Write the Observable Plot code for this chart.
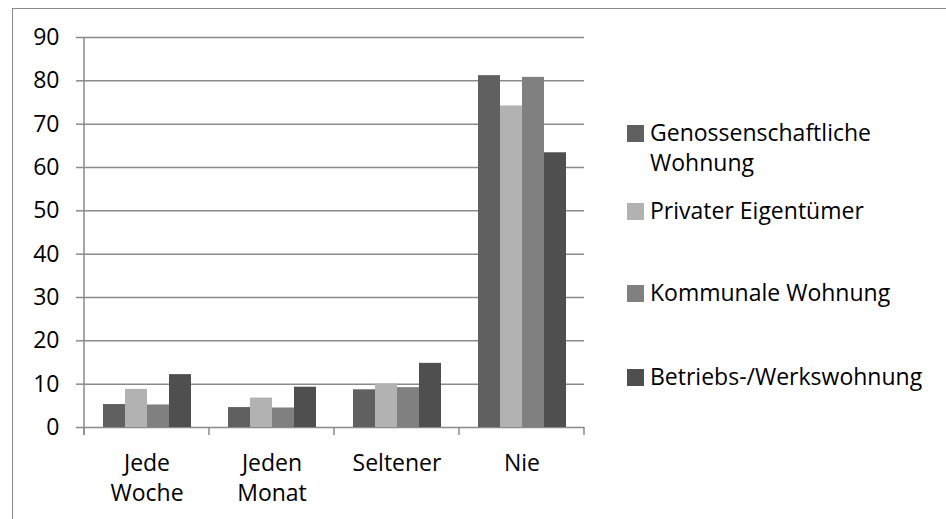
<!DOCTYPE html>
<html>
<head>
<meta charset="utf-8">
<script src="https://cdn.jsdelivr.net/npm/d3@7"></script>
<script src="https://cdn.jsdelivr.net/npm/@observablehq/plot@0.6"></script>
<style>
  html, body { margin: 0; padding: 0; background: #fff; }
  #wrap { position: relative; width: 946px; height: 519px; overflow: hidden; font-family: "Open Sans", sans-serif; }
  #frame { position: absolute; left: 12px; top: 8px; width: 960px; height: 600px; border: 1.5px solid #8a8a8a; box-sizing: border-box; }
  #chart { position: absolute; left: 0; top: 0; }
  #legend { position: absolute; left: 627px; top: 117px; font-size: 23px; line-height: 30px; color: #000; }
  .item { display: flex; align-items: flex-start; white-space: nowrap; }
  .sw { width: 17px; height: 17px; margin-top: 8px; margin-right: 6px; flex: none; }
</style>
</head>
<body>
<div id="wrap">
  <div id="frame"></div>
  <div id="chart"></div>
  <div id="legend"></div>
</div>
<script>
const categories = ["Jede Woche", "Jeden Monat", "Seltener", "Nie"];
const categoryLabels = ["Jede\nWoche", "Jeden\nMonat", "Seltener", "Nie"];
const series = ["Genossenschaftliche Wohnung", "Privater Eigentümer", "Kommunale Wohnung", "Betriebs-/Werkswohnung"];
const legendLabels = ["Genossenschaftliche<br>Wohnung", "Privater Eigentümer", "Kommunale Wohnung", "Betriebs-/Werkswohnung"];
const genossenschaftlich = [5.3, 4.6, 8.7, 81.2];
const privat = [8.8, 6.8, 10.0, 74.2];
const kommunal = [5.2, 4.5, 9.2, 80.8];
const betrieb = [12.2, 9.3, 14.8, 63.4];
const colors = ["#606060", "#b2b2b2", "#808080", "#4f4f4f"];
const yTicks = [0, 10, 20, 30, 40, 50, 60, 70, 80, 90];

const values = [genossenschaftlich, privat, kommunal, betrieb];
const data = [];
categories.forEach((c, i) => series.forEach((s, j) => data.push({cat: c, series: s, value: values[j][i]})));

const gridColor = "#8a8a8a";

const chart = Plot.plot({
  width: 600,
  height: 519,
  marginTop: 37,
  marginBottom: 92,
  marginLeft: 82,
  marginRight: 15,
  style: {fontFamily: "'Open Sans', sans-serif", fontSize: "23px", color: "#000", background: "transparent"},
  fx: {domain: categories, padding: 0, label: null},
  x: {domain: series, paddingInner: 0, paddingOuter: 0.74, axis: null},
  y: {domain: [0, 90], label: null},
  color: {domain: series, range: colors},
  marks: [
    Plot.gridY(yTicks, {stroke: gridColor, strokeOpacity: 1, strokeWidth: 1.5}),
    Plot.barY(data, {fx: "cat", x: "series", y: "value", fill: "series"}),
    Plot.axisY(yTicks, {tickSize: 8, tickPadding: 17, stroke: gridColor, strokeWidth: 1.5, fill: "#000", fontSize: 23, label: null}),
    Plot.axisFx({anchor: "bottom", tickSize: 0, tickPadding: 22, fontSize: 23, lineHeight: 1.3, fill: "#000", label: null,
      tickFormat: d => categoryLabels[categories.indexOf(d)]})
  ]
});
document.getElementById("chart").appendChild(chart);

// axis line and category boundary ticks, from the plot's own scales
const fx = chart.scale("fx");
const y = chart.scale("y");
const svg = d3.select(chart);
const y0 = y.apply(0), yTop = y.apply(90);
const edges = categories.map(c => fx.apply(c));
edges.push(fx.apply(categories[categories.length - 1]) + fx.bandwidth);
const g = svg.append("g").attr("stroke", gridColor).attr("stroke-width", 1.5);
g.append("line").attr("x1", edges[0]).attr("x2", edges[0]).attr("y1", yTop).attr("y2", y0 + 8);
g.selectAll(".edge").data(edges).join("line")
  .attr("x1", d => d).attr("x2", d => d).attr("y1", y0).attr("y2", y0 + 8);

// legend
const legend = document.getElementById("legend");
const gaps = [0, 18, 52, 54];
series.forEach((s, i) => {
  const it = document.createElement("div");
  it.className = "item";
  it.style.marginTop = gaps[i] + "px";
  it.innerHTML = `<div class="sw" style="background:${colors[i]}"></div><div>${legendLabels[i]}</div>`;
  legend.appendChild(it);
});
</script>
</body>
</html>
